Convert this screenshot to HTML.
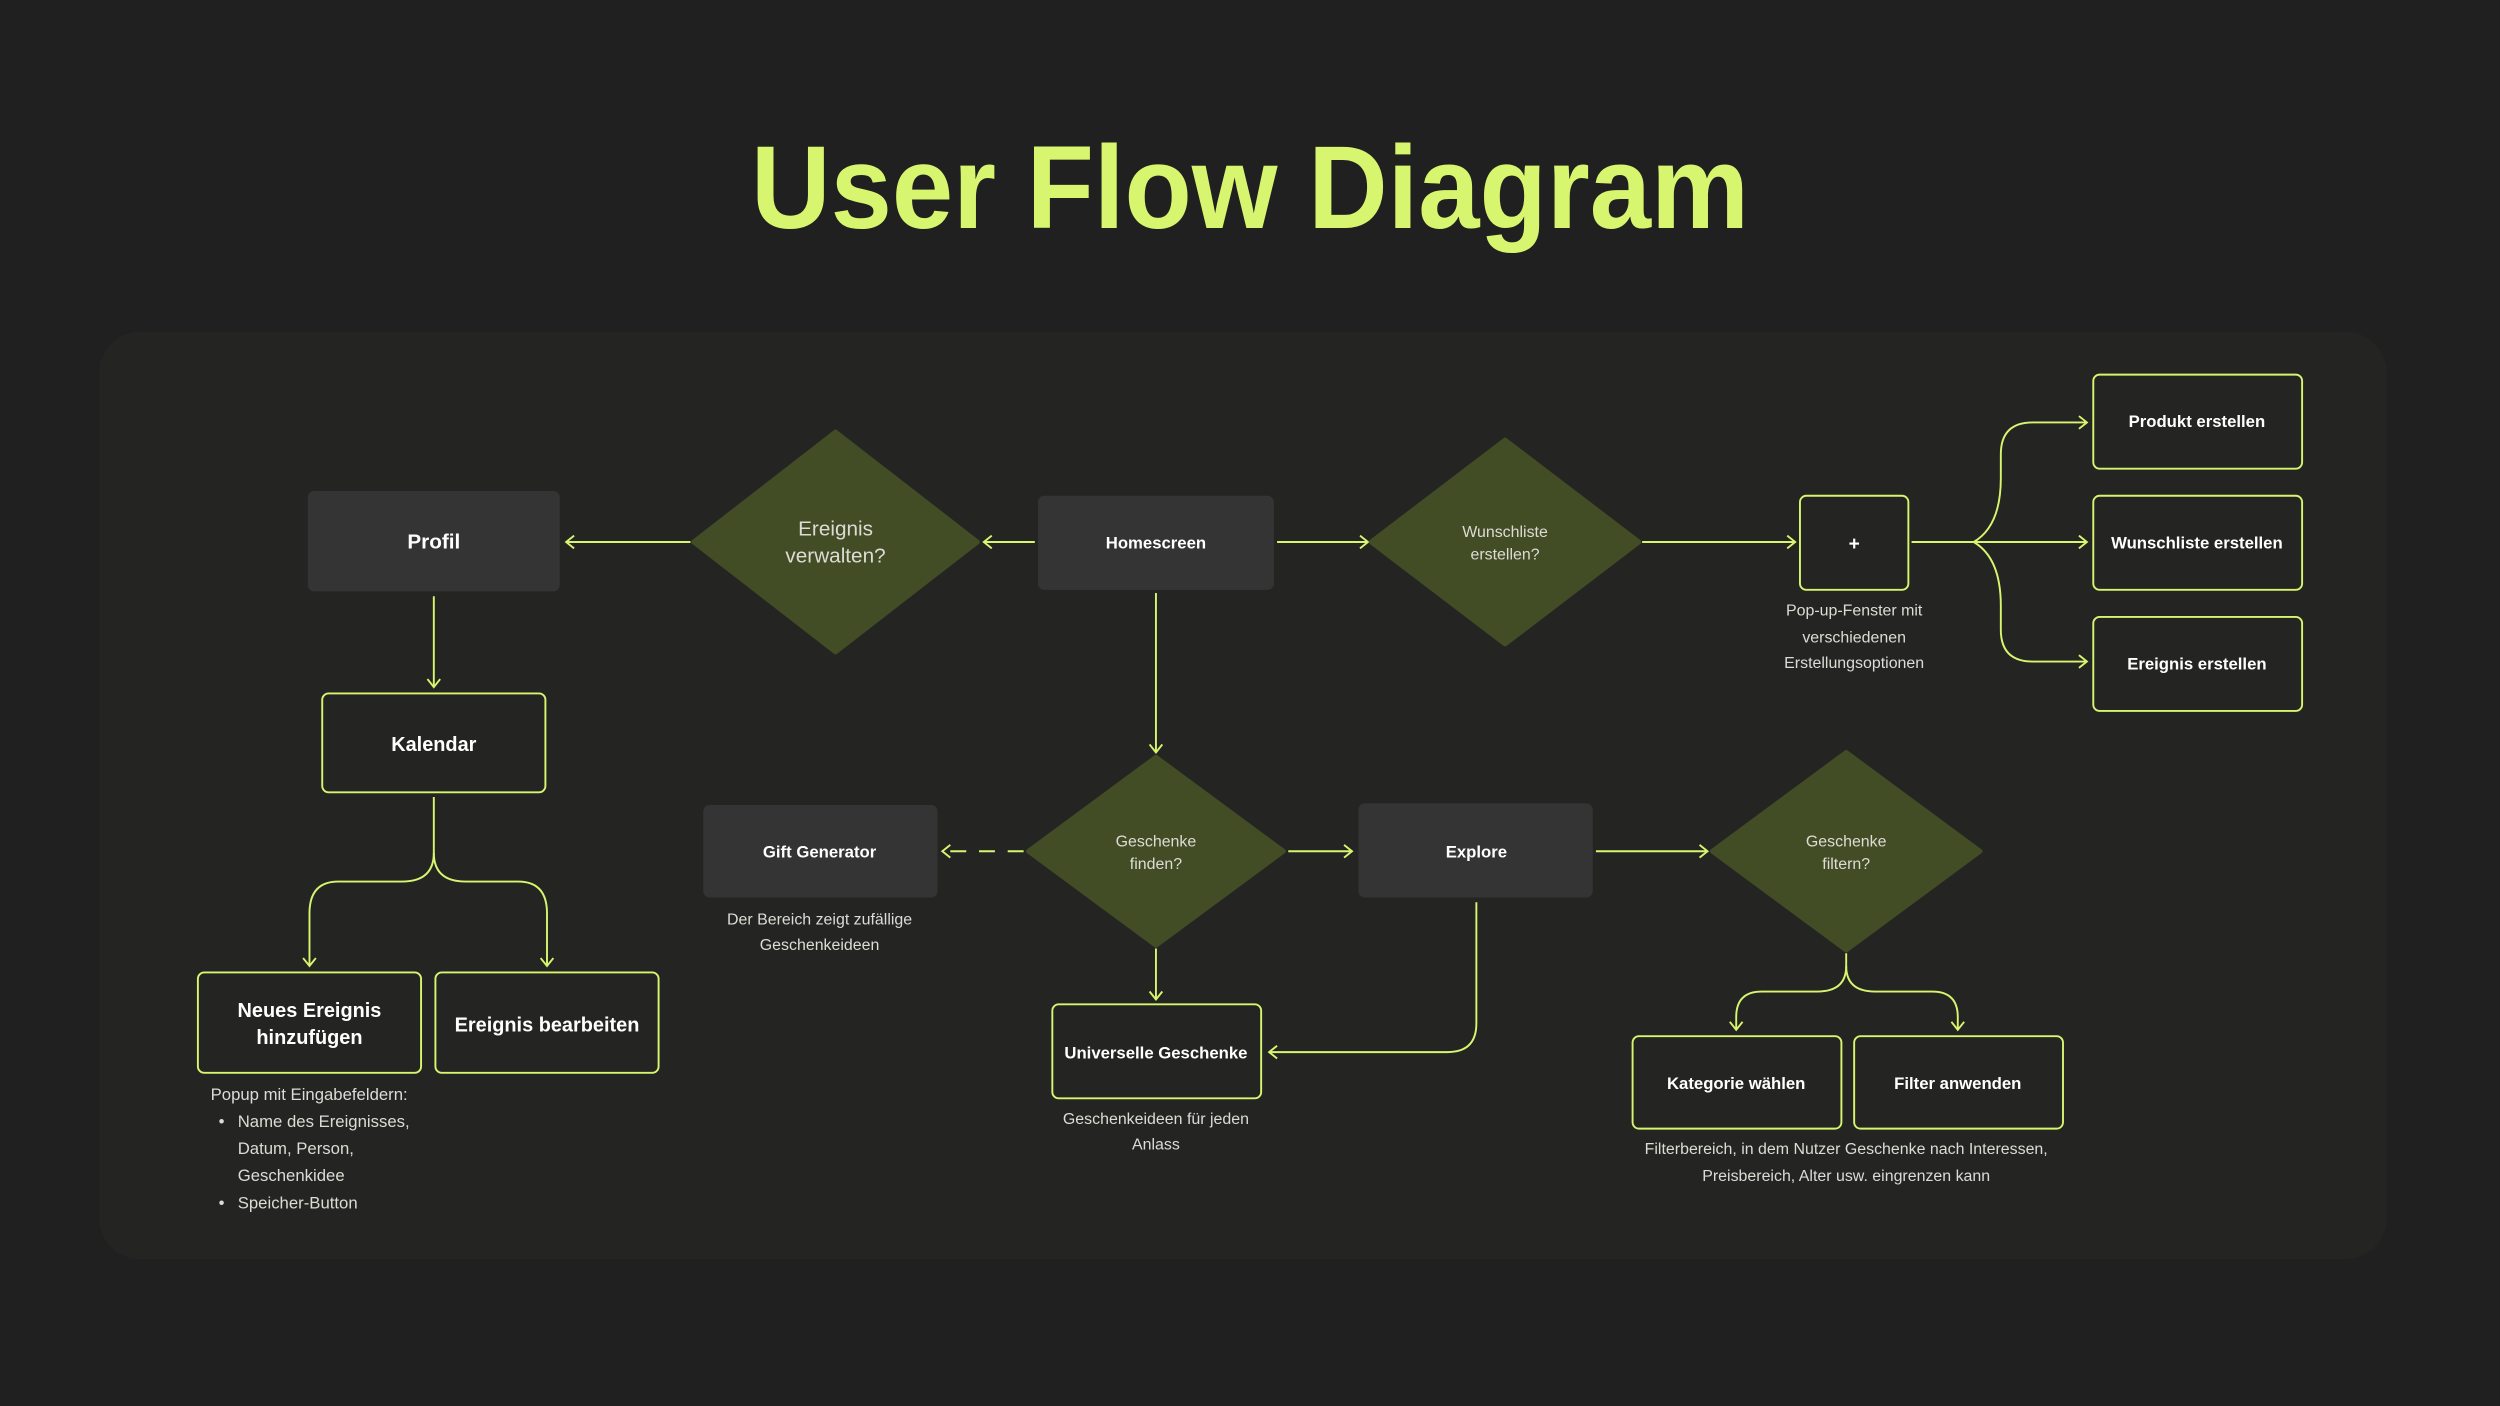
<!DOCTYPE html>
<html><head><meta charset="utf-8"><style>
html,body{margin:0;padding:0;background:#1f201f;}
svg{display:block;}
text{font-family:"Liberation Sans",sans-serif;}
</style></head><body>
<svg width="2500" height="1406" viewBox="0 0 1568 882" xmlns="http://www.w3.org/2000/svg">
<defs>
<marker id="a" markerUnits="userSpaceOnUse" markerWidth="12" markerHeight="12" refX="6" refY="5" orient="auto">
<path d="M1,1 L6,5 L1,9" fill="none" stroke="#d7f56e" stroke-width="1.2"/>
</marker>
</defs>
<rect width="1568" height="882" fill="#1f201f"/>
<text x="784" y="143" text-anchor="middle" font-size="74" font-weight="bold" fill="#d7f56e" textLength="626" lengthAdjust="spacingAndGlyphs">User Flow Diagram</text>
<rect x="62" y="208" width="1435" height="582" rx="26" fill="#242523"/>

<g fill="none" stroke="#d7f56e" stroke-width="1.2">
<!-- top row -->
<line x1="433" y1="340" x2="355" y2="340" marker-end="url(#a)"/>
<line x1="649" y1="340" x2="617" y2="340" marker-end="url(#a)"/>
<line x1="801" y1="340" x2="858" y2="340" marker-end="url(#a)"/>
<line x1="1030" y1="340" x2="1126" y2="340" marker-end="url(#a)"/>
<line x1="1199" y1="340" x2="1309" y2="340" marker-end="url(#a)"/>
<path d="M1238,340 Q1255,330 1255,300 L1255,285 Q1255,265 1275,265 L1309,265" marker-end="url(#a)"/>
<path d="M1238,340 Q1255,350 1255,380 L1255,395 Q1255,415 1275,415 L1309,415" marker-end="url(#a)"/>
<!-- left column -->
<line x1="272" y1="374" x2="272" y2="431" marker-end="url(#a)"/>
<path d="M272,500 L272,535 Q272,553 252,553 L212,553 Q194,553 194,573 L194,606" marker-end="url(#a)"/>
<path d="M272,535 Q272,553 292,553 L325,553 Q343,553 343,573 L343,606" marker-end="url(#a)"/>
<!-- middle -->
<line x1="725" y1="372" x2="725" y2="472" marker-end="url(#a)"/>
<line x1="642" y1="534" x2="591" y2="534" stroke-dasharray="10,8" marker-end="url(#a)"/>
<line x1="808" y1="534" x2="848" y2="534" marker-end="url(#a)"/>
<line x1="725" y1="595" x2="725" y2="627" marker-end="url(#a)"/>
<path d="M926,566 L926,642 Q926,660 908,660 L796,660" marker-end="url(#a)"/>
<line x1="1001" y1="534" x2="1071" y2="534" marker-end="url(#a)"/>
<path d="M1158,598 L1158,606 Q1158,622 1140,622 L1105,622 Q1089,622 1089,638 L1089,646" marker-end="url(#a)"/>
<path d="M1158,606 Q1158,622 1176,622 L1212,622 Q1228,622 1228,638 L1228,646" marker-end="url(#a)"/>
</g>

<!-- filled boxes -->
<g fill="#343434">
<rect x="193" y="308" width="158" height="63" rx="4"/>
<rect x="651" y="311" width="148" height="59" rx="4"/>
<rect x="441" y="505" width="147" height="58" rx="4"/>
<rect x="852" y="504" width="147" height="59" rx="4"/>
</g>
<!-- diamonds -->
<g fill="#424d26">
<path d="M524,271 L613,340 L524,409 L435,340 Z" stroke="#424d26" stroke-width="3" stroke-linejoin="round"/>
<path d="M944,276 L1028,340 L944,404 L860,340 Z" stroke="#424d26" stroke-width="3" stroke-linejoin="round"/>
<path d="M725,475 L805,534 L725,593 L645,534 Z" stroke="#424d26" stroke-width="3" stroke-linejoin="round"/>
<path d="M1158,472 L1242,534 L1158,596 L1074,534 Z" stroke="#424d26" stroke-width="3" stroke-linejoin="round"/>
</g>
<!-- outlined boxes -->
<g fill="#242523" stroke="#d7f56e" stroke-width="1.2">
<rect x="1129" y="311" width="68" height="59" rx="4"/>
<rect x="1313" y="235" width="131" height="59" rx="4"/>
<rect x="1313" y="311" width="131" height="59" rx="4"/>
<rect x="1313" y="387" width="131" height="59" rx="4"/>
<rect x="202" y="435" width="140" height="62" rx="4"/>
<rect x="124" y="610" width="140" height="63" rx="4"/>
<rect x="273" y="610" width="140" height="63" rx="4"/>
<rect x="660" y="630" width="131" height="59" rx="4"/>
<rect x="1024" y="650" width="131" height="58" rx="4"/>
<rect x="1163" y="650" width="131" height="58" rx="4"/>
</g>

<g fill="#ffffff" font-weight="bold" text-anchor="middle">
<text x="272" y="344" font-size="13">Profil</text>
<text x="725" y="344" font-size="10.5">Homescreen</text>
<text x="1163" y="345" font-size="12">+</text>
<text x="1378" y="268" font-size="10.5">Produkt erstellen</text>
<text x="1378" y="344" font-size="10.5">Wunschliste erstellen</text>
<text x="1378" y="420" font-size="10.5">Ereignis erstellen</text>
<text x="272" y="471" font-size="12.5">Kalendar</text>
<text x="194" y="638" font-size="12.5">Neues Ereignis</text>
<text x="194" y="655" font-size="12.5">hinzufügen</text>
<text x="343" y="647" font-size="12.5">Ereignis bearbeiten</text>
<text x="514" y="538" font-size="10.5">Gift Generator</text>
<text x="926" y="538" font-size="10.5">Explore</text>
<text x="725" y="664" font-size="10.5">Universelle Geschenke</text>
<text x="1089" y="683" font-size="10.5">Kategorie wählen</text>
<text x="1228" y="683" font-size="10.5">Filter anwenden</text>
</g>

<g fill="#dcdcd4" text-anchor="middle">
<text x="524" y="336" font-size="13">Ereignis</text>
<text x="524" y="353" font-size="13">verwalten?</text>
<text x="944" y="337" font-size="10">Wunschliste</text>
<text x="944" y="351" font-size="10">erstellen?</text>
<text x="725" y="531" font-size="10">Geschenke</text>
<text x="725" y="545" font-size="10">finden?</text>
<text x="1158" y="531" font-size="10">Geschenke</text>
<text x="1158" y="545" font-size="10">filtern?</text>
</g>

<g fill="#dcdcd4" font-size="10" text-anchor="middle">
<text x="1163" y="386">Pop-up-Fenster mit</text>
<text x="1163" y="403">verschiedenen</text>
<text x="1163" y="419">Erstellungsoptionen</text>
<text x="514" y="580">Der Bereich zeigt zufällige</text>
<text x="514" y="596">Geschenkeideen</text>
<text x="725" y="705">Geschenkeideen für jeden</text>
<text x="725" y="721">Anlass</text>
<text x="1158" y="724">Filterbereich, in dem Nutzer Geschenke nach Interessen,</text>
<text x="1158" y="741">Preisbereich, Alter usw. eingrenzen kann</text>
</g>
<g fill="#dcdcd4" font-size="10.5">
<text x="132" y="690">Popup mit Eingabefeldern:</text>
<text x="137" y="707">•</text>
<text x="149" y="707">Name des Ereignisses,</text>
<text x="149" y="724">Datum, Person,</text>
<text x="149" y="741">Geschenkidee</text>
<text x="137" y="758">•</text>
<text x="149" y="758">Speicher-Button</text>
</g>
</svg>
</body></html>
